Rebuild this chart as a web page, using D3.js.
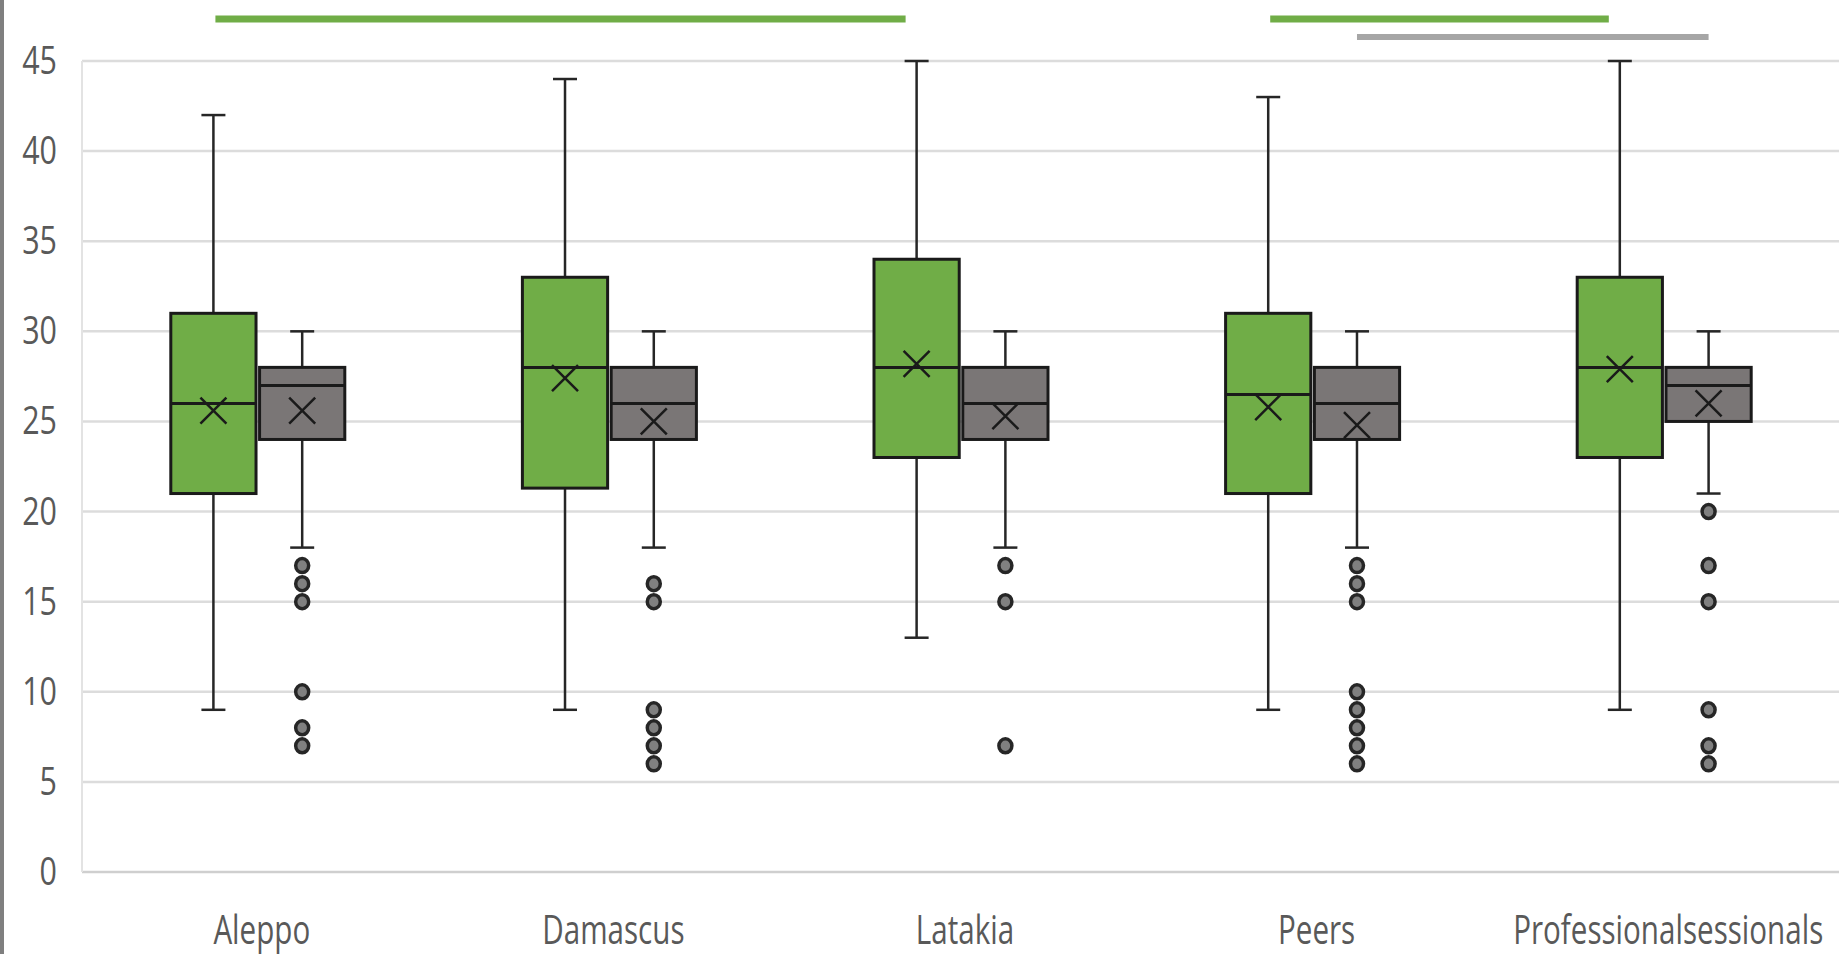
<!DOCTYPE html>
<html>

<head>
    <meta charset="UTF-8">
    <script src="https://d3js.org/d3.v7.min.js"></script>
    <style>
        body {
            margin: 0;
            background-color: #ffffff;
            overflow: hidden;
        }

        text {
            font-family: 'Open Sans', sans-serif;
            fill: #595959;
        }
    </style>
</head>

<body>
    <svg id="chart" width="1839" height="954"></svg>
    <script>
        // categories and the two series (green / gray)
        var categories = ["Aleppo", "Damascus", "Latakia", "Peers", "Professionalsessionals"];
        var series = ["green", "gray"];
        var yTicks = [0, 5, 10, 15, 20, 25, 30, 35, 40, 45];

        // [whisker low, Q1, median, Q3, whisker high, mean]
        var greenStats = [
            [9, 21, 26, 31, 42, 25.6],
            [9, 21.3, 28, 33, 44, 27.4],
            [13, 23, 28, 34, 45, 28.2],
            [9, 21, 26.5, 31, 43, 25.8],
            [9, 23, 28, 33, 45, 27.9]
        ];
        var grayStats = [
            [18, 24, 27, 28, 30, 25.6],
            [18, 24, 26, 28, 30, 25.0],
            [18, 24, 26, 28, 30, 25.3],
            [18, 24, 26, 28, 30, 24.8],
            [21, 25, 27, 28, 30, 26.0]
        ];
        var grayOutliers = [
            [17, 16, 15, 10, 8, 7],
            [16, 15, 9, 8, 7, 6],
            [17, 15, 7],
            [17, 16, 15, 10, 9, 8, 7, 6],
            [20, 17, 15, 9, 7, 6]
        ];

        // significance bars above the plot: [from category, from series, to category, to series]
        var sigGreen = [
            ["Aleppo", "green", "Latakia", "green"],
            ["Peers", "green", "Professionalsessionals", "green"]
        ];
        var sigGray = [
            ["Peers", "gray", "Professionalsessionals", "gray"]
        ];

        var colors = { green: "#70ad47", gray: "#7a7676" };

        var svg = d3.select("#chart");
        var plotLeft = 82, plotRight = 1840, plotTop = 61, plotBottom = 872;

        var x = d3.scaleBand().domain(categories).range([plotLeft, plotRight]);
        var half = x.bandwidth() / 2;
        var sub = d3.scaleBand().domain(series).range([half - 87, half + 87]).paddingInner(0.04);
        var y = d3.scaleLinear().domain([0, 45]).range([plotBottom, plotTop]);

        // left frame line of the cropped picture
        svg.append("line")
            .attr("x1", 2).attr("x2", 2).attr("y1", 0).attr("y2", 954)
            .attr("stroke", "#7f7f7f").attr("stroke-width", 4);

        // gridlines
        svg.append("g").selectAll("line")
            .data(yTicks)
            .enter()
            .append("line")
            .attr("x1", plotLeft).attr("x2", plotRight)
            .attr("y1", function (d) { return y(d); })
            .attr("y2", function (d) { return y(d); })
            .attr("stroke", function (d) { return d === 0 ? "#cfcfcf" : "#dcdcdc"; })
            .attr("stroke-width", 2.5);

        svg.append("line")
            .attr("x1", plotLeft).attr("x2", plotLeft).attr("y1", y(45)).attr("y2", y(0))
            .attr("stroke", "#e3e3e3").attr("stroke-width", 2);

        // y tick labels
        svg.append("g").selectAll("text")
            .data(yTicks)
            .enter()
            .append("text")
            .attr("transform", function (d) { return "translate(57," + (y(d) + 13) + ") scale(0.8,1)"; })
            .attr("text-anchor", "end")
            .style("font-size", "38px")
            .text(function (d) { return d; });

        // category labels
        svg.append("g").selectAll("text")
            .data(categories)
            .enter()
            .append("text")
            .attr("transform", function (d) { return "translate(" + (x(d) + half + 4) + ",944) scale(0.74,1)"; })
            .attr("text-anchor", "middle")
            .style("font-size", "40px")
            .text(function (d) { return d; });

        function cx(cat, s) {
            return x(cat) + sub(s) + sub.bandwidth() / 2;
        }

        // significance bars
        svg.append("g").selectAll("line")
            .data(sigGreen)
            .enter()
            .append("line")
            .attr("x1", function (d) { return cx(d[0], d[1]) + 2; })
            .attr("x2", function (d) { return cx(d[2], d[3]) - 11; })
            .attr("y1", 19).attr("y2", 19)
            .attr("stroke", colors.green).attr("stroke-width", 7);

        svg.append("g").selectAll("line")
            .data(sigGray)
            .enter()
            .append("line")
            .attr("x1", function (d) { return cx(d[0], d[1]); })
            .attr("x2", function (d) { return cx(d[2], d[3]); })
            .attr("y1", 37).attr("y2", 37)
            .attr("stroke", "#a6a6a6").attr("stroke-width", 6);

        function drawBoxes(stats, s) {
            var w = sub.bandwidth();
            var g = svg.append("g").selectAll("g")
                .data(stats)
                .enter()
                .append("g");

            g.append("line")
                .attr("x1", function (d, i) { return cx(categories[i], s); })
                .attr("x2", function (d, i) { return cx(categories[i], s); })
                .attr("y1", function (d) { return y(d[0]); })
                .attr("y2", function (d) { return y(d[4]); })
                .attr("stroke", "#262626").attr("stroke-width", 2.5);

            [0, 4].forEach(function (k) {
                g.append("line")
                    .attr("x1", function (d, i) { return cx(categories[i], s) - 12; })
                    .attr("x2", function (d, i) { return cx(categories[i], s) + 12; })
                    .attr("y1", function (d) { return y(d[k]); })
                    .attr("y2", function (d) { return y(d[k]); })
                    .attr("stroke", "#262626").attr("stroke-width", 2.5);
            });

            g.append("rect")
                .attr("x", function (d, i) { return x(categories[i]) + sub(s); })
                .attr("width", w)
                .attr("y", function (d) { return y(d[3]); })
                .attr("height", function (d) { return y(d[1]) - y(d[3]); })
                .attr("fill", colors[s])
                .attr("stroke", "#1a1a1a").attr("stroke-width", 3);

            g.append("line")
                .attr("x1", function (d, i) { return x(categories[i]) + sub(s); })
                .attr("x2", function (d, i) { return x(categories[i]) + sub(s) + w; })
                .attr("y1", function (d) { return y(d[2]); })
                .attr("y2", function (d) { return y(d[2]); })
                .attr("stroke", "#1a1a1a").attr("stroke-width", 3);

            // mean marker
            g.append("path")
                .attr("d", function (d, i) {
                    var px = cx(categories[i], s), py = y(d[5]), r = 13;
                    return "M" + (px - r) + "," + (py - r) + "L" + (px + r) + "," + (py + r) +
                        "M" + (px - r) + "," + (py + r) + "L" + (px + r) + "," + (py - r);
                })
                .attr("stroke", "#1a1a1a").attr("stroke-width", 2.5).attr("fill", "none");
        }

        drawBoxes(greenStats, "green");
        drawBoxes(grayStats, "gray");

        // outliers of the gray series
        grayOutliers.forEach(function (list, i) {
            svg.append("g").selectAll("ellipse")
                .data(list)
                .enter()
                .append("ellipse")
                .attr("cx", cx(categories[i], "gray"))
                .attr("cy", function (d) { return y(d); })
                .attr("rx", 6.5).attr("ry", 7)
                .attr("fill", "#808080")
                .attr("stroke", "#262626").attr("stroke-width", 3.5);
        });
    </script>
</body>

</html>
